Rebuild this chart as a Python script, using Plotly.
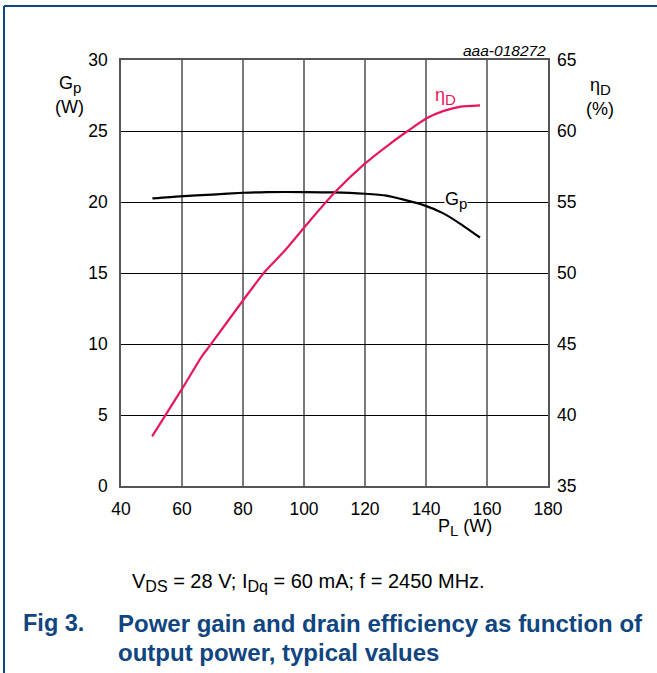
import plotly.graph_objects as go

# Data
pl_gain = [50.3, 59.3, 70, 80.1, 87.8, 100, 109.5, 120, 127, 133, 139, 145.7, 151, 157.7]
gain = [20.25, 20.4, 20.52, 20.65, 20.7, 20.7, 20.68, 20.58, 20.45, 20.15, 19.8, 19.2, 18.5, 17.5]

pl_eff = [50.2, 59.9, 66.4, 69.2, 80.1, 87.2, 93.8, 102, 110.2, 119.4, 128.2, 134, 140.2, 145.6, 151, 157.7]
eff = [38.5, 41.8, 44.1, 44.9, 48.1, 50.1, 51.6, 53.7, 55.7, 57.6, 59.1, 60.0, 60.9, 61.4, 61.7, 61.8]

x_ticks = [40, 60, 80, 100, 120, 140, 160, 180]
y_ticks = [0, 5, 10, 15, 20, 25, 30]
y2_ticks = [35, 40, 45, 50, 55, 60, 65]

PINK = "#e8175d"
BLUE = "#0f4580"
FONT = "Liberation Sans, Arial, sans-serif"
TS = 17.5

fig = go.Figure()
fig.add_trace(go.Scatter(x=pl_gain, y=gain, mode="lines", line=dict(color="black", width=2.2, shape="spline", smoothing=0.6),
                         showlegend=False, hoverinfo="skip"))
fig.add_trace(go.Scatter(x=pl_eff, y=eff, mode="lines", line=dict(color=PINK, width=2.2, shape="spline", smoothing=0.6),
                         yaxis="y2", showlegend=False, hoverinfo="skip"))

L, R, T, B = 121, 548, 60, 486
W, H = 657, 673

def px(x):
    return (x - L) / (R - L)

def py(y):
    return (B - y) / (B - T)

def sub(s, size):
    return "<sub><span style='font-size:%dpx'>%s</span></sub>" % (size, s)

fig.update_layout(
    width=W, height=H,
    margin=dict(l=L, r=W - R, t=T, b=H - B),
    paper_bgcolor="white", plot_bgcolor="white",
    font=dict(family=FONT, size=TS, color="black"),
    xaxis=dict(range=[40, 180], tickvals=x_ticks, showgrid=True, gridcolor="#7a7a7a", gridwidth=1.6,
               showline=True, linecolor="#555", linewidth=1.5, mirror=True, ticks="", zeroline=False,
               tickfont=dict(size=TS), ticklabelstandoff=6),
    yaxis=dict(range=[0, 30], tickvals=y_ticks, showgrid=True, gridcolor="black", gridwidth=1,
               showline=True, linecolor="#555", linewidth=1.5, mirror=True, ticks="", zeroline=False,
               tickfont=dict(size=TS), ticklabelstandoff=8),
    yaxis2=dict(range=[35, 65], tickvals=y2_ticks, overlaying="y", side="right", showgrid=False,
                showline=False, ticks="", zeroline=False, tickfont=dict(size=TS), ticklabelstandoff=8),
)

ann = [
    dict(x=px(548), y=py(50), text="<i>aaa-018272</i>", xanchor="right", yanchor="middle", font=dict(size=15.5)),
    dict(x=px(70), y=py(85), text="G" + sub("p", 15), xanchor="center", yanchor="middle", font=dict(size=18)),
    dict(x=px(69), y=py(107), text="(W)", xanchor="center", yanchor="middle", font=dict(size=18)),
    dict(x=px(600), y=py(86), text="η" + sub("D", 15), xanchor="center", yanchor="middle", font=dict(size=18)),
    dict(x=px(600), y=py(109), text="(%)", xanchor="center", yanchor="middle", font=dict(size=18)),
    dict(x=px(465), y=py(527), text="P" + sub("L", 15) + " (W)", xanchor="center", yanchor="middle", font=dict(size=18)),
    dict(x=px(445), y=py(96), text="η" + sub("D", 15), xanchor="center", yanchor="middle", font=dict(size=18, color=PINK)),
    dict(x=px(456), y=py(200), text="G" + sub("p", 15), xanchor="center", yanchor="middle", font=dict(size=18),
         bgcolor="white", borderpad=0),
    dict(x=px(130), y=py(582), text="V" + sub("DS", 16) + " = 28 V; I" + sub("Dq", 16) + " = 60 mA; f = 2450 MHz.",
         xanchor="left", yanchor="middle", font=dict(size=20)),
    dict(x=px(21), y=py(623), text="<b>Fig 3.</b>", xanchor="left", yanchor="middle",
         font=dict(size=23.5, color=BLUE)),
    dict(x=px(116), y=py(623), text="<b>Power gain and drain efficiency as function of</b>", xanchor="left",
         yanchor="middle", font=dict(size=24, color=BLUE)),
    dict(x=px(116), y=py(652), text="<b>output power, typical values</b>", xanchor="left",
         yanchor="middle", font=dict(size=24, color=BLUE)),
]
for a in ann:
    a.update(xref="paper", yref="paper", showarrow=False)
fig.update_layout(annotations=ann)

fig.update_layout(shapes=[
    dict(type="line", xref="paper", yref="paper", x0=px(4), x1=px(657), y0=py(6), y1=py(6),
         line=dict(color=BLUE, width=2)),
    dict(type="line", xref="paper", yref="paper", x0=px(4), x1=px(4), y0=py(6), y1=py(673),
         line=dict(color=BLUE, width=2)),
])

fig.write_html("out.html", config=dict(displayModeBar=False),
               post_script="document.body.style.margin='0';")
